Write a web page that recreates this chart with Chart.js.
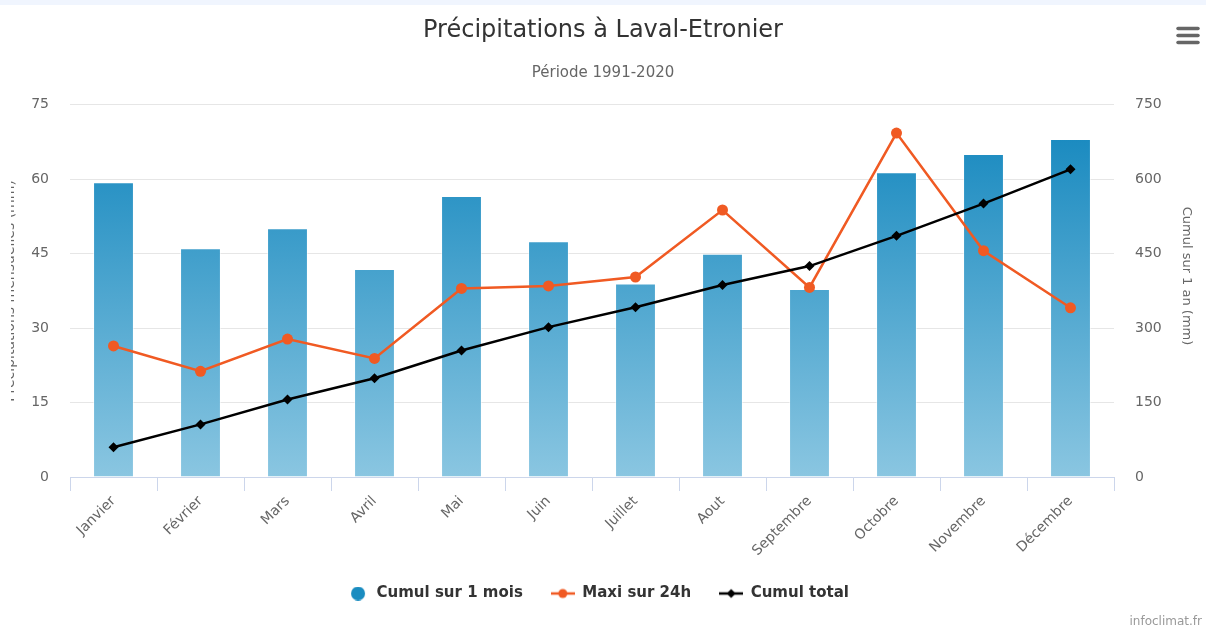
<!DOCTYPE html>
<html lang="fr">
<head>
<meta charset="utf-8">
<title>Précipitations à Laval-Etronier</title>
<script src="https://cdn.jsdelivr.net/npm/chart.js@4.4.1/dist/chart.umd.min.js"></script>
<style>
  html, body { margin: 0; padding: 0; background: #ffffff; }
  #wrap { position: relative; width: 1206px; height: 628px; }
</style>
</head>
<body>
<div id="wrap"><canvas id="chart" width="1206" height="628"></canvas></div>
<script>
// Normales 1991-2020, station Laval-Etronier
const months = ['Janvier', 'Février', 'Mars', 'Avril', 'Mai', 'Juin', 'Juillet', 'Aout', 'Septembre', 'Octobre', 'Novembre', 'Décembre'];
const cumulMois = [59.4, 46.1, 50.1, 41.9, 56.6, 47.5, 39.0, 45.0, 37.9, 61.4, 65.1, 68.1];
const maxi24h = [26.4, 21.3, 27.8, 23.9, 38.0, 38.5, 40.3, 53.8, 38.2, 69.3, 45.6, 34.1];
const cumulTotal = [60, 106, 156, 199, 255, 302, 342, 387, 425, 486, 551, 620];
const leftTicks = [0, 15, 30, 45, 60, 75];
const rightTicks = [0, 150, 300, 450, 600, 750];

const FONT = "'DejaVu Sans', 'Liberation Sans', sans-serif";
const ORANGE = '#f05a23';
const BLACK = '#000000';
const BLUE = '#1a8cc0';

// Small legend symbols: a dot, or a line segment carrying its marker
function legendSymbol(kind, color) {
  const c = document.createElement('canvas');
  c.width = 24; c.height = 14;
  const g = c.getContext('2d');
  g.fillStyle = color; g.strokeStyle = color;
  if (kind === 'dot') {
    g.beginPath(); g.arc(13, 7, 7, 0, Math.PI * 2); g.fill();
  } else {
    g.lineWidth = 2.5;
    g.beginPath(); g.moveTo(0, 7); g.lineTo(24, 7); g.stroke();
    g.beginPath();
    if (kind === 'circle') {
      g.arc(12, 7, 4.5, 0, Math.PI * 2);
    } else {
      g.moveTo(12, 2.5); g.lineTo(16.5, 7); g.lineTo(12, 11.5); g.lineTo(7.5, 7); g.closePath();
    }
    g.fill();
  }
  return c;
}
const symbols = [legendSymbol('dot', BLUE), legendSymbol('circle', ORANGE), legendSymbol('diamond', BLACK)];

// Vertical gradient spanning the whole plot area
let barGradient = null, gradientKey = '';
function barFill(ctx) {
  const chart = ctx.chart;
  const a = chart.chartArea;
  if (!a) return BLUE;
  const key = a.top + ':' + a.bottom;
  if (!barGradient || key !== gradientKey) {
    barGradient = chart.ctx.createLinearGradient(0, a.top, 0, a.bottom);
    barGradient.addColorStop(0, 'rgb(16,133,189)');
    barGradient.addColorStop(1, 'rgb(138,198,225)');
    gradientKey = key;
  }
  return barGradient;
}

// Nudges the legend row slightly to the left of centre
const legendShift = {
  id: 'legendShift',
  afterLayout(chart) {
    const lg = chart.legend;
    if (!lg) return;
    lg.left -= 6;
    lg.right -= 6;
    (lg.legendHitBoxes || []).forEach(h => { h.left -= 6; });
  }
};

// Page furniture: top band, menu icon, credit, axis titles
const decorations = {
  id: 'decorations',
  beforeDraw(chart) {
    const g = chart.ctx;
    g.save();
    g.fillStyle = '#f0f5fe';
    g.fillRect(0, 0, chart.width, 5);
    g.restore();
  },
  afterDraw(chart) {
    const g = chart.ctx;
    const a = chart.chartArea;
    const midY = (a.top + a.bottom) / 2;
    g.save();
    // menu icon
    g.strokeStyle = '#666666';
    g.lineWidth = 3.5;
    g.lineCap = 'round';
    [28.5, 35.5, 42.5].forEach(y => {
      g.beginPath(); g.moveTo(1178, y); g.lineTo(1198, y); g.stroke();
    });
    // credit
    g.fillStyle = '#999999';
    g.font = '12px ' + FONT;
    g.textAlign = 'right';
    g.textBaseline = 'middle';
    g.fillText('infoclimat.fr', 1202, 622);
    // left axis title (partly outside the drawing area)
    g.save();
    g.beginPath(); g.rect(11, 0, 60, chart.height); g.clip();
    g.translate(13.5, midY);
    g.rotate(-Math.PI / 2);
    g.fillStyle = '#666666';
    g.font = '14px ' + FONT;
    g.textAlign = 'center';
    g.textBaseline = 'alphabetic';
    g.fillText('Précipitations mensuelles (mm)', 0, 0);
    g.restore();
    // right axis title
    g.save();
    g.translate(1186, 276);
    g.rotate(Math.PI / 2);
    g.fillStyle = '#666666';
    g.font = '13px ' + FONT;
    g.textAlign = 'center';
    g.textBaseline = 'middle';
    g.fillText('Cumul sur 1 an (mm)', 0, 0);
    g.restore();
    g.restore();
  }
};

new Chart(document.getElementById('chart'), {
  data: {
    labels: months,
    datasets: [
      {
        type: 'bar',
        label: 'Cumul sur 1 mois',
        data: cumulMois,
        yAxisID: 'y',
        order: 3,
        backgroundColor: barFill,
        borderColor: 'rgba(255,255,255,0.55)',
        borderWidth: 1,
        barPercentage: 0.47,
        categoryPercentage: 1
      },
      {
        type: 'line',
        label: 'Maxi sur 24h',
        data: maxi24h,
        yAxisID: 'y',
        order: 2,
        borderColor: ORANGE,
        backgroundColor: ORANGE,
        borderWidth: 2.5,
        pointStyle: 'circle',
        pointRadius: 5.5,
        pointBorderWidth: 0,
        tension: 0
      },
      {
        type: 'line',
        label: 'Cumul total',
        data: cumulTotal,
        yAxisID: 'y1',
        order: 1,
        borderColor: BLACK,
        backgroundColor: BLACK,
        borderWidth: 2.5,
        pointStyle: 'rectRot',
        pointRadius: 5,
        pointBorderWidth: 0,
        tension: 0
      }
    ]
  },
  options: {
    responsive: false,
    devicePixelRatio: 1,
    animation: false,
    layout: { padding: { top: 0, left: 0, right: 0, bottom: 17 } },
    plugins: {
      tooltip: { enabled: false },
      title: {
        display: true,
        text: 'Précipitations à Laval-Etronier',
        color: '#333333',
        font: { family: FONT, size: 24, weight: 'normal' },
        padding: { top: 16, bottom: 19 }
      },
      subtitle: {
        display: true,
        text: 'Période 1991-2020',
        color: '#666666',
        font: { family: FONT, size: 15, weight: 'normal' },
        padding: { top: 0, bottom: 23 }
      },
      legend: {
        position: 'bottom',
        labels: {
          color: '#333333',
          font: { family: FONT, size: 15, weight: 'bold' },
          usePointStyle: true,
          pointStyleWidth: 24,
          padding: 28,
          sort: (a, b) => a.datasetIndex - b.datasetIndex,
          generateLabels(chart) {
            const items = Chart.defaults.plugins.legend.labels.generateLabels(chart);
            items.forEach(it => { it.pointStyle = symbols[it.datasetIndex]; });
            return items;
          }
        }
      }
    },
    scales: {
      x: {
        offset: true,
        border: { display: true, color: '#ccd6eb', width: 1 },
        grid: {
          display: true,
          offset: true,
          drawOnChartArea: false,
          drawTicks: true,
          tickLength: 14,
          color: '#ccd6eb'
        },
        ticks: {
          autoSkip: false,
          minRotation: 45,
          maxRotation: 45,
          padding: 2,
          color: '#666666',
          font: { family: FONT, size: 14 }
        },
        afterFit(scale) { scale.height = 81; }
      },
      y: {
        position: 'left',
        min: leftTicks[0],
        max: leftTicks[leftTicks.length - 1],
        border: { display: false },
        grid: { color: '#e6e6e6', drawTicks: false },
        ticks: {
          stepSize: leftTicks[1] - leftTicks[0],
          padding: 21,
          color: '#666666',
          font: { family: FONT, size: 14 }
        },
        afterFit(scale) { scale.width = 70; }
      },
      y1: {
        position: 'right',
        min: rightTicks[0],
        max: rightTicks[rightTicks.length - 1],
        border: { display: false },
        grid: { drawOnChartArea: false, drawTicks: false },
        ticks: {
          stepSize: rightTicks[1] - rightTicks[0],
          padding: 21,
          color: '#666666',
          font: { family: FONT, size: 14 }
        },
        afterFit(scale) { scale.width = 92; }
      }
    }
  },
  plugins: [decorations, legendShift]
});
</script>
</body>
</html>
